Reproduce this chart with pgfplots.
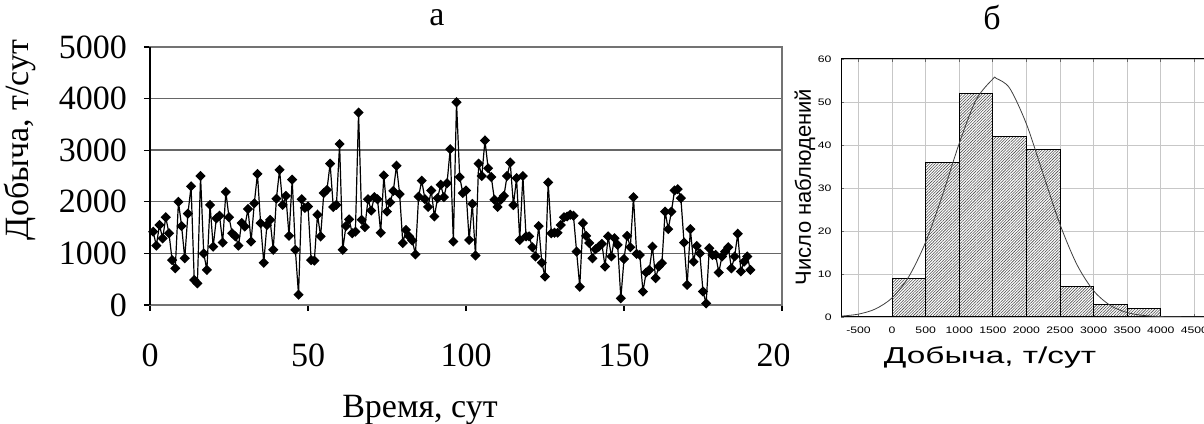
\documentclass[border=0pt]{standalone}
\usepackage{fontspec}
\setmainfont{Liberation Serif}
\newfontfamily\histfont[FakeStretch=1.3]{Liberation Sans}
\newfontfamily\histlabel[FakeStretch=1.45]{Liberation Sans}
\newfontfamily\histylabel{Liberation Sans}
\usepackage{pgfplots}
\pgfplotsset{compat=1.18}
\usetikzlibrary{patterns.meta}

\begin{document}
\begin{tikzpicture}
% panel a: daily output, 1 px of the reference = 0.5pt
\begin{axis}[
    at={(75pt,59pt)}, anchor=south west,
    scale only axis, width=316pt, height=129pt,
    xmin=0, xmax=200, ymin=0, ymax=5000,
    xtick={0,50,...,200}, ytick={0,1000,...,5000},
    ymajorgrids, grid style={black!60, line width=0.7pt},
    axis line style={black!55, line width=0.8pt},
    tick align=outside, major tick length=3pt,
    tick style={black, line width=0.6pt},
    xtick pos=left, ytick pos=left,
    tick label style={font=\fontsize{17}{20}\selectfont},
    /pgf/number format/assume math mode=true,
    /pgf/number format/1000 sep={},
    xticklabel style={yshift=-13pt},
    yticklabel style={xshift=-5pt},
    clip=false,
]
\draw[black, line width=0.8pt] (axis cs:0,0) -- (axis cs:0,5000);
\addplot[black, line width=0.6pt, mark=square*, mark size=1.5pt,
         mark options={rotate=45, fill=black}] table[x=day, y=val] {
day val
1 1420
2 1150
3 1550
4 1290
5 1700
6 1390
7 870
8 710
9 2000
10 1530
11 905
12 1770
13 2300
14 485
15 420
16 2500
17 1000
18 680
19 1940
20 1130
21 1680
22 1730
23 1210
24 2190
25 1700
26 1390
27 1330
28 1150
29 1590
30 1520
31 1860
32 1230
33 1970
34 2540
35 1585
36 820
37 1550
38 1650
39 1070
40 2060
41 2620
42 1940
43 2115
44 1340
45 2430
46 1070
47 200
48 2050
49 1880
50 1910
51 870
52 860
53 1750
54 1330
55 2170
56 2230
57 2740
58 1900
59 1940
60 3120
61 1070
62 1530
63 1660
64 1390
65 1420
66 3730
67 1650
68 1510
69 2050
70 1830
71 2090
72 2050
73 1400
74 2510
75 1810
76 1990
77 2210
78 2700
79 2150
80 1200
81 1455
82 1330
83 1250
84 980
85 2100
86 2410
87 2050
88 1900
89 2220
90 1715
91 2070
92 2330
93 2090
94 2360
95 3020
96 1230
97 3930
98 2480
99 2170
100 2220
101 1260
102 1960
103 960
104 2740
105 2500
106 3190
107 2650
108 2480
109 2040
110 1900
111 2040
112 2115
113 2500
114 2760
115 1935
116 2460
117 1260
118 2500
119 1330
120 1330
121 1120
122 940
123 1530
124 820
125 550
126 2375
127 1390
128 1400
129 1400
130 1550
131 1700
132 1715
133 1750
134 1730
135 1035
136 355
137 1585
138 1340
139 1200
140 905
141 1080
142 1130
143 1185
144 745
145 1330
146 940
147 1295
148 1165
149 130
150 890
151 1340
152 1120
153 2090
154 990
155 970
156 260
157 630
158 680
159 1130
160 520
161 745
162 810
163 1810
164 1470
165 1810
166 2220
167 2245
168 2070
169 1210
170 390
171 1470
172 840
173 1145
174 1000
175 260
176 30
177 1100
178 970
179 970
180 630
181 940
182 1035
183 1120
184 710
185 940
186 1380
187 650
188 840
189 940
190 680
};
\end{axis}

\node[font=\fontsize{17}{20}\selectfont] at (218.5pt,202.5pt) {а};
\node[font=\fontsize{17}{20}\selectfont, rotate=90] at (10pt,141.5pt) {Добыча, т/сут};
\node[font=\fontsize{17}{20}\selectfont] at (210pt,6.5pt) {Время, сут};

% panel b sits on its own white sheet
\fill[white] (394.5pt,11.5pt) rectangle (602pt,192.5pt);

\begin{axis}[
    at={(420.5pt,53pt)}, anchor=south west,
    scale only axis, width=193.5pt, height=129pt,
    xmin=-760, xmax=5000, ymin=0, ymax=60,
    xtick={-500,0,...,4500}, ytick={0,10,...,60},
    grid=major, grid style={black!22, line width=0.4pt},
    axis line style={black, line width=0.5pt},
    tick align=inside, major tick length=1.5pt,
    tick style={black!60, line width=0.4pt},
    tick label style={font=\histfont\fontsize{4.7}{5.6}\selectfont},
    /pgf/number format/assume math mode=true,
    /pgf/number format/1000 sep={},
    xticklabel style={yshift=-1.2pt},
    yticklabel style={xshift=-1.2pt},
]
\addplot[ybar interval, draw=black, line width=0.5pt, fill=white,
         postaction={pattern={Lines[angle=45, distance=1pt, line width=0.28pt]},
                     pattern color=black!70}]
    coordinates {(0,9) (500,36) (1000,52) (1500,42) (2000,39) (2500,7) (3000,3) (3500,2) (4000,0)};
\addplot[smooth, black!75, line width=0.4pt] coordinates {
    (-750,0.21) (-500,0.67) (-250,1.85) (0,4.45) (250,9.41) (500,17.43)
    (750,28.34) (1000,40.39) (1250,50.49) (1500,55.36) (1550,55.5) (1750,53.22)
    (2000,44.87) (2250,33.17) (2500,21.51) (2750,12.23) (3000,6.10)
    (3250,2.67) (3500,1.02) (3750,0.34) (4000,0.10) (4250,0.03) (4500,0.01) (4750,0.0)
};
\end{axis}

\node[font=\fontsize{17}{20}\selectfont] at (496pt,202.5pt) {б};
\node[font=\histylabel\fontsize{11}{13}\selectfont, rotate=90] at (402.5pt,118pt) {Число наблюдений};
\node[font=\histlabel\fontsize{11.5}{13}\selectfont] at (495pt,33pt) {Добыча, т/сут};

\pgfresetboundingbox
\path[use as bounding box] (0,0) rectangle (602pt,211.5pt);
\end{tikzpicture}
\end{document}
